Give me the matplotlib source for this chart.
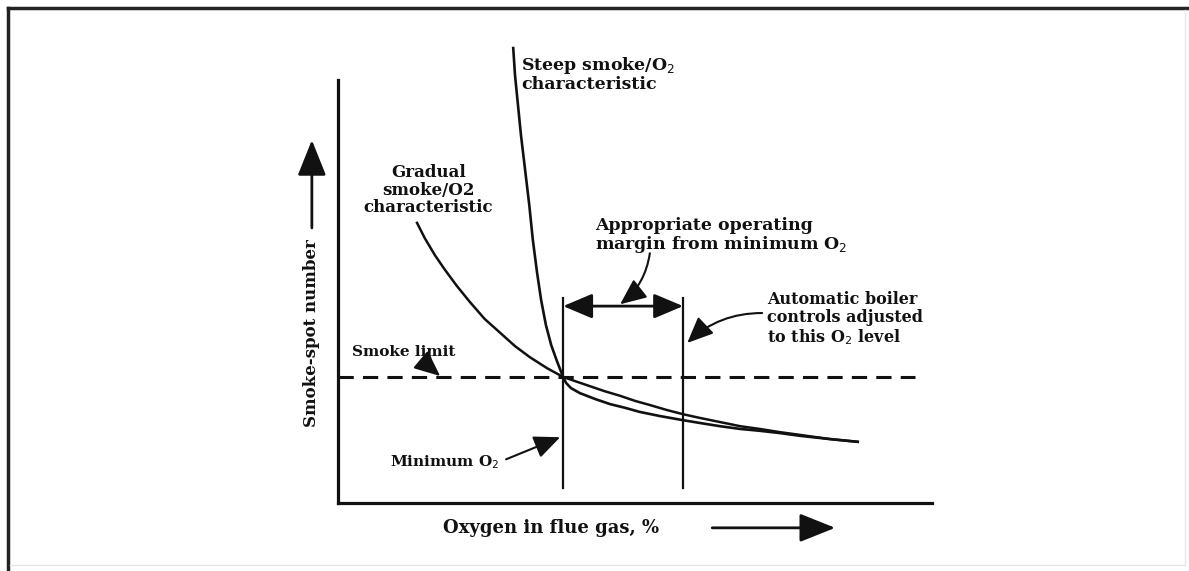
import matplotlib.pyplot as plt
from matplotlib.lines import Line2D

# curve data (x = oxygen in flue gas, y = smoke-spot number, arbitrary units 0..10)
gradual_x = [1.33, 1.46, 1.63, 1.80, 2.00, 2.22, 2.47, 2.73, 2.98, 3.23, 3.52, 3.79,
             3.99, 4.24, 4.49, 4.75, 5.00, 5.25, 5.54, 5.81, 6.09, 6.43, 6.77, 7.10, 7.44, 7.78, 8.28, 8.75]
gradual_y = [6.09, 5.76, 5.39, 5.07, 4.72, 4.37, 4.00, 3.70, 3.41, 3.17, 2.93, 2.74,
             2.65, 2.54, 2.43, 2.33, 2.22, 2.13, 2.02, 1.93, 1.85, 1.76, 1.67, 1.61, 1.54, 1.48, 1.39, 1.33]

steep_x = [2.95, 2.98, 3.03, 3.08, 3.15, 3.22, 3.28, 3.35, 3.42, 3.50, 3.59, 3.69, 3.79,
           3.84, 3.92, 4.07, 4.33, 4.58, 4.83, 5.08, 5.42, 5.81, 6.09, 6.43, 6.77, 7.10, 7.44, 7.78, 8.28, 8.75]
steep_y = [9.89, 9.30, 8.65, 8.00, 7.24, 6.48, 5.72, 5.02, 4.41, 3.87, 3.43, 3.07, 2.74,
           2.61, 2.50, 2.39, 2.26, 2.15, 2.07, 1.98, 1.89, 1.80, 1.74, 1.67, 1.61, 1.57, 1.52, 1.46, 1.39, 1.33]

smoke_limit = 2.74
min_o2 = 3.79
set_o2 = 5.81

ink = '#111111'


def font(size):
    return dict(family='DejaVu Serif', fontweight='bold', fontsize=size, color=ink)


fig = plt.figure(figsize=(11.89, 5.71), dpi=100)

# outer frame of the scanned figure
fig.add_artist(Line2D([8/1189, 8/1189], [0, 1 - 8/571], transform=fig.transFigure, color='#222222', lw=2.5))
fig.add_artist(Line2D([8/1189, 1], [1 - 8/571, 1 - 8/571], transform=fig.transFigure, color='#222222', lw=2.5))
fig.add_artist(Line2D([1185/1189, 1185/1189], [6/571, 1 - 10/571], transform=fig.transFigure, color='#e6e6e6', lw=1))
fig.add_artist(Line2D([10/1189, 1185/1189], [6/571, 6/571], transform=fig.transFigure, color='#e6e6e6', lw=1))

ax = fig.add_axes([338/1189, 68/571, 594/1189, 460/571])
ax.set_xlim(0, 10)
ax.set_ylim(0, 10)
ax.set_xticks([])
ax.set_yticks([])
ax.spines['top'].set_visible(False)
ax.spines['right'].set_visible(False)
for s in ['left', 'bottom']:
    ax.spines[s].set_linewidth(2.3)
    ax.spines[s].set_color(ink)
ax.spines['left'].set_bounds(0, 9.2)
ax.patch.set_visible(False)

# curves
ax.plot(gradual_x, gradual_y, color=ink, lw=1.8, clip_on=False, solid_joinstyle='round')
ax.plot(steep_x, steep_y, color=ink, lw=1.9, clip_on=False, solid_joinstyle='round')

# smoke limit and O2 markers
ax.plot([0, 9.71], [smoke_limit, smoke_limit], color=ink, lw=2.2, ls=(0, (5, 3)))
ax.plot([min_o2, min_o2], [0.33, 4.46], color=ink, lw=1.6)
ax.plot([set_o2, set_o2], [0.33, 4.46], color=ink, lw=1.6)

head = '-|>,head_length=0.8,head_width=0.35'
ax.annotate('', xy=(set_o2, 4.28), xytext=(min_o2, 4.28),
            arrowprops=dict(arrowstyle='<|-|>,head_length=0.9,head_width=0.38', mutation_scale=20,
                            color=ink, lw=2, shrinkA=0, shrinkB=0))

# labels
ax.text(3.08, 9.33, 'Steep smoke/O$_2$\ncharacteristic', ha='left', va='center', linespacing=1.0, **font(12.5))
ax.text(1.52, 6.80, 'Gradual\nsmoke/O2\ncharacteristic', ha='center', va='center', linespacing=1.05, **font(12))
ax.text(4.33, 5.80, 'Appropriate operating\nmargin from minimum O$_2$', ha='left', va='center', linespacing=0.98, **font(12.5))
ax.text(7.22, 4.00, 'Automatic boiler\ncontrols adjusted\nto this O$_2$ level', ha='left', va='center', linespacing=1.05, **font(11.5))
ax.text(0.24, 3.28, 'Smoke limit', ha='left', va='center', **font(11))
ax.text(0.88, 0.89, 'Minimum O$_2$', ha='left', va='center', **font(11))

# annotation arrows
ax.annotate('', xy=(1.72, 2.76), xytext=(1.55, 3.17),
            arrowprops=dict(arrowstyle=head, mutation_scale=20, color=ink, lw=1.5,
                            shrinkA=0, shrinkB=0, connectionstyle='arc3,rad=0.2'))
ax.annotate('', xy=(3.74, 1.43), xytext=(2.83, 0.95),
            arrowprops=dict(arrowstyle=head, mutation_scale=20, color=ink, lw=1.5,
                            shrinkA=0, shrinkB=0))
ax.annotate('', xy=(4.75, 4.32), xytext=(5.25, 5.43),
            arrowprops=dict(arrowstyle=head, mutation_scale=20, color=ink, lw=1.5,
                            shrinkA=0, shrinkB=0, connectionstyle='arc3,rad=-0.2'))
ax.annotate('', xy=(5.88, 3.48), xytext=(7.14, 4.13),
            arrowprops=dict(arrowstyle=head, mutation_scale=20, color=ink, lw=1.5,
                            shrinkA=0, shrinkB=0, connectionstyle='arc3,rad=0.2'))

# axis titles with arrows
ax.text(1.77, -0.54, 'Oxygen in flue gas, %', ha='left', va='center', clip_on=False, **font(13))
ax.annotate('', xy=(8.37, -0.54), xytext=(6.30, -0.54), annotation_clip=False,
            arrowprops=dict(arrowstyle='-|>,head_length=1.0,head_width=0.4', mutation_scale=22,
                            color=ink, lw=2, shrinkA=0, shrinkB=0))
ax.text(-0.44, 3.70, 'Smoke-spot number', ha='center', va='center', rotation=90, clip_on=False, **font(12))
ax.annotate('', xy=(-0.44, 7.89), xytext=(-0.44, 5.98), annotation_clip=False,
            arrowprops=dict(arrowstyle='-|>,head_length=1.0,head_width=0.4', mutation_scale=22,
                            color=ink, lw=2, shrinkA=0, shrinkB=0))

fig.savefig('out.png', dpi=100)
